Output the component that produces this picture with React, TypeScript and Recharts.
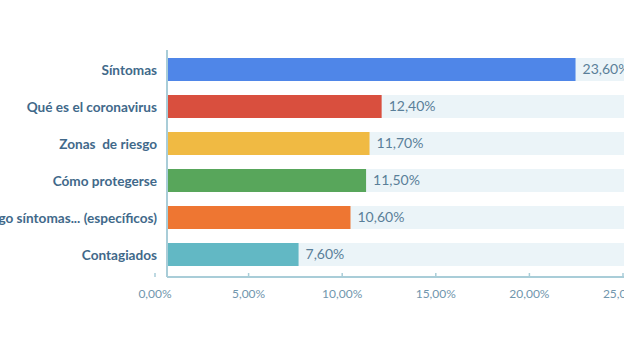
import { Bar, BarChart, Cell, LabelList, XAxis, YAxis } from "recharts";

const categories = [
  "Síntomas",
  "Qué es el coronavirus",
  "Zonas  de riesgo",
  "Cómo protegerse",
  "Riesgo síntomas... (específicos)",
  "Contagiados",
];
const values = [23.6, 12.4, 11.7, 11.5, 10.6, 7.6];
const colors = ["#4f86e8", "#d94f3e", "#f0ba43", "#58a65b", "#ee7632", "#62b8c4"];
const xTicks = [0, 5, 10, 15, 20, 25];

const AXIS_COLOR = "#a9cdd8";
const pct = (value: number) => `${value.toFixed(2).replace(".", ",")}%`;

const data = categories.map((name, i) => ({ name, value: values[i] }));

function CategoryTick({ x, y, payload }: any) {
  return (
    <text
      x={x - 2}
      y={y}
      dy={5}
      textAnchor="end"
      fill="#41698a"
      fontSize={13.6}
      fontWeight={700}
      fontFamily="Lato"
      style={{ whiteSpace: "pre" }}
    >
      {payload.value}
    </text>
  );
}

function PercentTick({ x, y, payload }: any) {
  return (
    <g>
      <line x1={x} x2={x} y1={y - 4} y2={y} stroke={AXIS_COLOR} strokeWidth={1.5} />
      <text x={x} y={y} dy={21} textAnchor="middle" fill="#7196ad" fontSize={12} fontFamily="Lato">
        {pct(payload.value)}
      </text>
    </g>
  );
}

export default function App() {
  return (
    <div style={{ position: "absolute", left: 0, top: 0, width: 624, height: 351, background: "#fff" }}>
      <BarChart
        width={624}
        height={351}
        data={data}
        layout="vertical"
        margin={{ top: 50, right: 0, bottom: 0, left: 0 }}
      >
        <XAxis xAxisId="bars" type="number" domain={[0, 26.4]} orientation="top" height={0} hide />
        <XAxis
          xAxisId="ticks"
          type="number"
          domain={[0, 25]}
          ticks={xTicks}
          allowDataOverflow
          padding={{ left: -12, right: 1 }}
          height={74}
          axisLine={{ stroke: AXIS_COLOR, strokeWidth: 2 }}
          tickLine={false}
          tickSize={0}
          tickMargin={0}
          tick={<PercentTick />}
          interval={0}
        />
        <YAxis
          type="category"
          dataKey="name"
          width={167}
          padding={{ top: 1, bottom: 4 }}
          axisLine={{ stroke: AXIS_COLOR, strokeWidth: 2 }}
          tickLine={false}
          tick={<CategoryTick />}
          interval={0}
        />
        <Bar
          xAxisId="bars"
          dataKey="value"
          barSize={23}
          background={{ fill: "#ebf4f8" }}
          isAnimationActive={false}
        >
          {data.map((entry, i) => (
            <Cell key={entry.name} fill={colors[i]} />
          ))}
          <LabelList
            dataKey="value"
            position="right"
            offset={7}
            formatter={(v: any) => pct(v as number)}
            fill="#5a7f99"
            fontSize={14}
            fontFamily="Lato"
          />
        </Bar>
      </BarChart>
    </div>
  );
}
